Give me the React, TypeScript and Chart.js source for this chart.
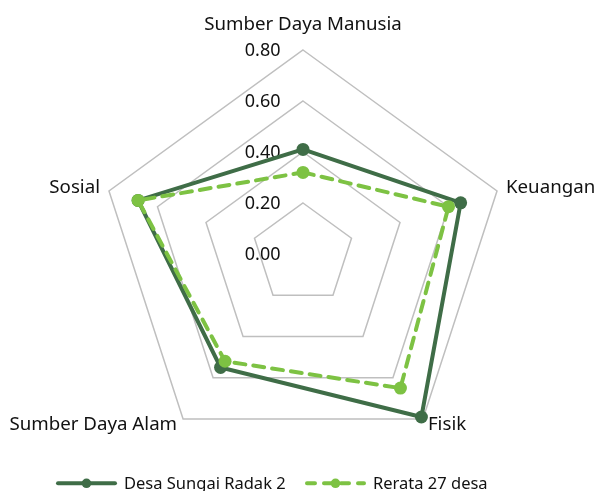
import React, { useEffect, useRef } from "react";
import { Chart, registerables } from "chart.js";

Chart.register(...registerables);

// ---- data ----
const categories = ["Sumber Daya Manusia", "Keuangan", "Fisik", "Sumber Daya Alam", "Sosial"];
const seriesNames = ["Desa Sungai Radak 2", "Rerata 27 desa"];
const desaValues = [0.41, 0.65, 0.79, 0.55, 0.68];
const rerataValues = [0.32, 0.6, 0.65, 0.52, 0.68];
const tickLabels = ["0.00", "0.20", "0.40", "0.60", "0.80"];

// ---- styles ----
const DARK = "#3F6D47";
const LIGHT = "#7DC243";
const GRID = "#BFBFBF";
const TEXT = "#111111";
const FONT = '"Noto Sans", "DejaVu Sans", sans-serif';
const DASH = [11, 8];

const labelOffsets = [
  { align: "center", dx: 0, dy: -20.5 },
  { align: "left", dx: 9, dy: 2 },
  { align: "left", dx: 5, dy: 11 },
  { align: "right", dx: -6, dy: 11 },
  { align: "right", dx: -9, dy: 2 },
];

const legendSlots = [
  { x0: 56, x1: 117, textX: 124 },
  { x0: 305, x1: 366, textX: 373 },
];
const LEGEND_Y = 483.3;

const textPlugin = {
  id: "customText",
  beforeDatasetsDraw(chart: any) {
    const scale = chart.scales.r;
    const ctx = chart.ctx;
    ctx.save();
    ctx.font = `18px ${FONT}`;
    ctx.fillStyle = TEXT;
    ctx.textAlign = "right";
    ctx.textBaseline = "alphabetic";
    scale.ticks.forEach((t: any, i: number) => {
      const y = scale.yCenter - scale.getDistanceFromCenterForValue(t.value);
      const txt = tickLabels[i] ?? Number(t.value).toFixed(2);
      ctx.fillText(txt, scale.xCenter - 22.5, y + 6.4);
    });
    ctx.restore();
  },
  afterDraw(chart: any) {
    const scale = chart.scales.r;
    const ctx = chart.ctx;
    ctx.save();
    ctx.font = `18.7px ${FONT}`;
    ctx.fillStyle = TEXT;
    ctx.textBaseline = "alphabetic";
    categories.forEach((name, i) => {
      const p = scale.getPointPosition(i, scale.drawingArea);
      const o = labelOffsets[i];
      ctx.textAlign = o.align;
      ctx.fillText(name, p.x + o.dx, p.y + o.dy);
    });

    // legend
    chart.data.datasets.forEach((ds: any, i: number) => {
      const s = legendSlots[i];
      if (!s) return;
      ctx.save();
      ctx.strokeStyle = ds.borderColor;
      ctx.lineWidth = ds.borderWidth;
      ctx.lineCap = "round";
      ctx.setLineDash(ds.borderDash ? [8, 9] : []);
      ctx.beginPath();
      ctx.moveTo(s.x0 + 2, LEGEND_Y);
      ctx.lineTo(s.x1 - 2, LEGEND_Y);
      ctx.stroke();
      ctx.setLineDash([]);
      ctx.fillStyle = ds.pointBackgroundColor;
      ctx.beginPath();
      ctx.arc((s.x0 + s.x1) / 2, LEGEND_Y, 4.8, 0, Math.PI * 2);
      ctx.fill();
      ctx.restore();
      ctx.font = `16.5px ${FONT}`;
      ctx.fillStyle = TEXT;
      ctx.textAlign = "left";
      ctx.fillText(ds.label, s.textX, LEGEND_Y + 5.3);
    });
    ctx.restore();
  },
};

export default function App() {
  const ref = useRef<HTMLCanvasElement | null>(null);

  useEffect(() => {
    if (!ref.current) return;
    const chart = new Chart(ref.current, {
      type: "radar",
      data: {
        labels: categories,
        datasets: [
          {
            label: seriesNames[0],
            data: desaValues,
            borderColor: DARK,
            backgroundColor: DARK,
            borderWidth: 4,
            pointRadius: 6.5,
            pointBorderWidth: 0,
            pointBackgroundColor: DARK,
            fill: false,
            tension: 0,
            order: 1,
          },
          {
            label: seriesNames[1],
            data: rerataValues,
            borderColor: LIGHT,
            backgroundColor: LIGHT,
            borderWidth: 4,
            borderDash: DASH,
            borderCapStyle: "round",
            pointRadius: 6.5,
            pointBorderWidth: 0,
            pointBackgroundColor: LIGHT,
            fill: false,
            tension: 0,
            order: 0,
          },
        ],
      },
      options: {
        responsive: false,
        animation: false,
        layout: { padding: { left: 99, right: 90, top: 50, bottom: 33 } },
        plugins: {
          legend: { display: false },
          tooltip: { enabled: false },
        },
        scales: {
          r: {
            min: 0,
            max: 0.8,
            ticks: { stepSize: 0.2, display: false },
            grid: { color: GRID, lineWidth: 1.5 },
            angleLines: { display: false },
            pointLabels: { display: false },
          },
        },
      },
      plugins: [textPlugin],
    } as any);
    return () => chart.destroy();
  }, []);

  return (
    <div style={{ position: "fixed", left: 0, top: 0, width: 597, height: 491, background: "#fff" }}>
      <canvas ref={ref} width={597} height={491} style={{ display: "block" }} />
    </div>
  );
}
